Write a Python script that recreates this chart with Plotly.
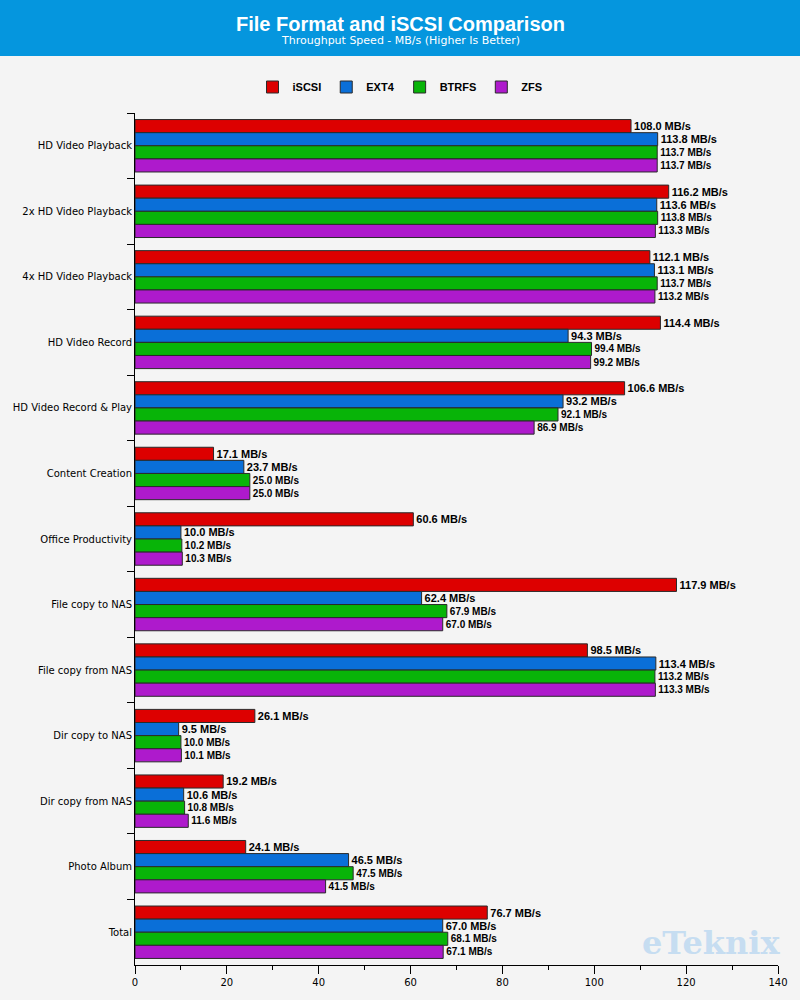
import plotly.graph_objects as go

categories = ["HD Video Playback", "2x HD Video Playback", "4x HD Video Playback",
              "HD Video Record", "HD Video Record & Play", "Content Creation",
              "Office Productivity", "File copy to NAS", "File copy from NAS",
              "Dir copy to NAS", "Dir copy from NAS", "Photo Album", "Total"]
iscsi = [108.0, 116.2, 112.1, 114.4, 106.6, 17.1, 60.6, 117.9, 98.5, 26.1, 19.2, 24.1, 76.7]
ext4 = [113.8, 113.6, 113.1, 94.3, 93.2, 23.7, 10.0, 62.4, 113.4, 9.5, 10.6, 46.5, 67.0]
btrfs = [113.7, 113.8, 113.7, 99.4, 92.1, 25.0, 10.2, 67.9, 113.2, 10.0, 10.8, 47.5, 68.1]
zfs = [113.7, 113.3, 113.2, 99.2, 86.9, 25.0, 10.3, 67.0, 113.3, 10.1, 11.6, 41.5, 67.1]
x_ticks = [0, 20, 40, 60, 80, 100, 120, 140]

series = [("iSCSI", iscsi, "#DD0000", 11),
          ("EXT4", ext4, "#0A6FD8", 11),
          ("BTRFS", btrfs, "#08B408", 10),
          ("ZFS", zfs, "#AE1ACC", 10)]

fig = go.Figure()
for name, vals, color, fsize in series:
    fig.add_trace(go.Bar(
        y=categories, x=vals, name=f"<b>{name}</b>", orientation="h",
        marker=dict(color=color, line=dict(color="#2a2a2a", width=1)),
        text=[f"<b>{v:.1f} MB/s</b>" for v in vals],
        textposition="outside", cliponaxis=False,
        textfont=dict(family="Liberation Sans", size=fsize, color="#000000"),
    ))

fig.update_layout(
    width=800, height=1000,
    paper_bgcolor="#F4F4F4", plot_bgcolor="#F4F4F4",
    margin=dict(l=135, r=22, t=113, b=35),
    barmode="group", bargap=0.2, bargroupgap=0,
    showlegend=True,
    legend=dict(orientation="h", xref="container", yref="container",
                x=0.5, xanchor="center", y=1 - 87 / 1000, yanchor="middle",
                font=dict(family="Liberation Sans", size=11, color="#000000"),
                bgcolor="rgba(0,0,0,0)", itemwidth=30,
                traceorder="normal"),
    font=dict(family="DejaVu Sans", color="#222222"),
    xaxis=dict(range=[0, 140], tickvals=x_ticks, showgrid=False, zeroline=False,
               showline=True, linecolor="#000000", linewidth=1,
               ticks="outside", ticklen=8, tickcolor="#000000",
               minor=dict(dtick=10, ticks="outside", ticklen=4, tickcolor="#000000"),
               tickfont=dict(family="DejaVu Sans", size=10, color="#000000")),
    yaxis=dict(autorange="reversed", showgrid=False, zeroline=False,
               showline=True, linecolor="#000000", linewidth=1,
               ticks="outside", tickson="boundaries", ticklen=7, tickcolor="#000000",
               tickfont=dict(family="DejaVu Sans", size=10, color="#000000")),
    shapes=[dict(type="rect", xref="paper", yref="paper",
                 x0=-135 / 643, x1=1 + 22 / 643,
                 y0=(965 - 56) / 852, y1=965 / 852 + 0.01,
                 fillcolor="#0596DE", line=dict(width=0), layer="above")],
    annotations=[
        dict(text="<b>File Format and iSCSI Comparison</b>", xref="paper", yref="paper",
             x=(400 - 135) / 643, y=(965 - 24) / 852, showarrow=False,
             xanchor="center", yanchor="middle",
             font=dict(family="Liberation Sans", size=20, color="#FFFFFF")),
        dict(text="Throughput Speed - MB/s (Higher Is Better)", xref="paper", yref="paper",
             x=(400 - 135) / 643, y=(965 - 41) / 852, showarrow=False,
             xanchor="center", yanchor="middle",
             font=dict(family="DejaVu Sans", size=11, color="#FFFFFF")),
        dict(text="<b>eTeknix</b>", xref="paper", yref="paper",
             x=(711 - 135) / 643, y=(965 - 943) / 852, showarrow=False,
             xanchor="center", yanchor="middle",
             font=dict(family="DejaVu Serif", size=32, color="#C6DDF1")),
    ],
)

fig.write_html("out.html", config={"displayModeBar": False},
               post_script="document.body.style.margin='0';document.body.style.background='#F4F4F4';")
